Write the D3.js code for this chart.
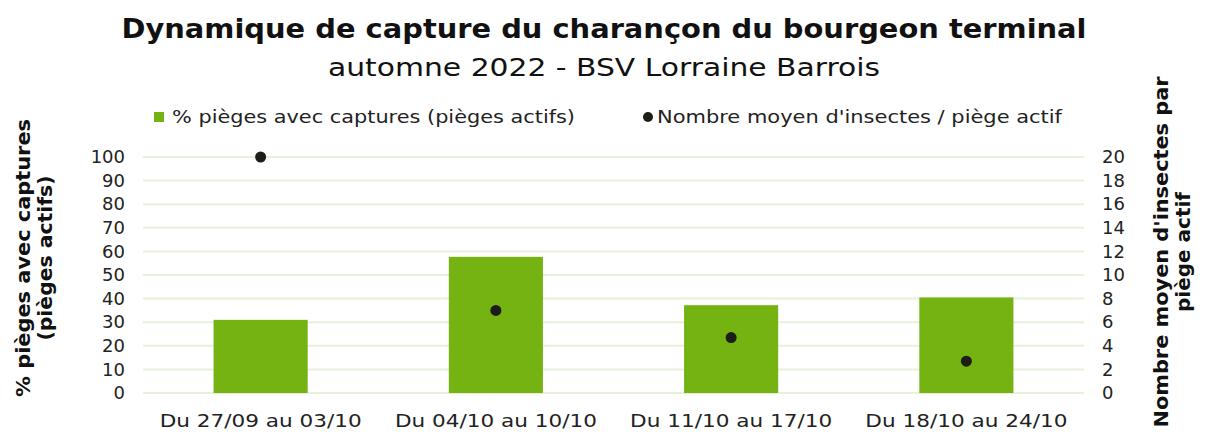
<!DOCTYPE html>
<html>
<head>
<meta charset="utf-8">
<script src="https://cdn.jsdelivr.net/npm/d3@7"></script>
<style>
  body { margin: 0; background: #fff; }
  svg { display: block; font-family: "DejaVu Sans", Verdana, sans-serif; }
</style>
</head>
<body>
<svg id="chart" width="1207" height="432"></svg>
<script>
var categories = ["Du 27/09 au 03/10", "Du 04/10 au 10/10", "Du 11/10 au 17/10", "Du 18/10 au 24/10"];
var pctPieges = [31, 57.7, 37.2, 40.5];
var moyInsectes = [20, 7, 4.7, 2.7];
var leftTicks = [0, 10, 20, 30, 40, 50, 60, 70, 80, 90, 100];
var rightTicks = [0, 2, 4, 6, 8, 10, 12, 14, 16, 18, 20];

var barColor = "#74b312";
var dotColor = "#1d1d16";
var gridColor = "#e6f1d9";
var textColor = "#222";

var margin = {top: 157, right: 123, bottom: 39, left: 143},
    width = 1207 - margin.left - margin.right,
    height = 432 - margin.top - margin.bottom;

var svg = d3.select("#chart");

// the original font is wider than DejaVu, stretch text to the measured widths
var fit = function(sel, w) {
    sel.attr("textLength", w).attr("lengthAdjust", "spacingAndGlyphs");
};

// titles
svg.append("text")
    .attr("x", 604).attr("y", 38)
    .attr("text-anchor", "middle")
    .attr("font-size", 26).attr("font-weight", "bold")
    .attr("fill", "#111")
    .text("Dynamique de capture du charançon du bourgeon terminal")
    .call(fit, 965);
svg.append("text")
    .attr("x", 604).attr("y", 76)
    .attr("text-anchor", "middle")
    .attr("font-size", 25)
    .attr("fill", "#111")
    .text("automne 2022 - BSV Lorraine Barrois")
    .call(fit, 552);

var g = svg.append("g")
    .attr("transform", "translate(" + margin.left + "," + margin.top + ")");

var x = d3.scaleBand().domain(categories).range([0, width]);
var barW = x.bandwidth() * 0.4;

var yLeft = d3.scaleLinear().domain([0, 100]).range([height, 0]);
var yRight = d3.scaleLinear().domain([0, 20]).range([height, 0]);

// grid
g.selectAll("line.grid")
    .data(leftTicks)
  .enter().append("line")
    .attr("class", "grid")
    .attr("x1", 0).attr("x2", width)
    .attr("y1", function(d) { return yLeft(d); })
    .attr("y2", function(d) { return yLeft(d); })
    .attr("stroke", gridColor)
    .attr("stroke-width", 2);

// bars
g.selectAll("rect.bar")
    .data(pctPieges)
  .enter().append("rect")
    .attr("class", "bar")
    .attr("x", function(d, i) { return x(categories[i]) + (x.bandwidth() - barW) / 2; })
    .attr("width", barW)
    .attr("y", function(d) { return yLeft(d); })
    .attr("height", function(d) { return height - yLeft(d); })
    .attr("fill", barColor);

// dots
g.selectAll("circle.dot")
    .data(moyInsectes)
  .enter().append("circle")
    .attr("class", "dot")
    .attr("cx", function(d, i) { return x(categories[i]) + x.bandwidth() / 2; })
    .attr("cy", function(d) { return yRight(d); })
    .attr("r", 5.5)
    .attr("fill", dotColor);

// left axis
var axL = g.append("g")
    .attr("transform", "translate(-6,0)")
    .call(d3.axisLeft(yLeft).tickValues(leftTicks).tickSize(0).tickPadding(12));
axL.select(".domain").remove();
axL.selectAll("text").attr("font-size", 18).attr("font-family", "DejaVu Sans").attr("fill", textColor);

// right axis
var axR = g.append("g")
    .attr("transform", "translate(" + (width + 6) + ",0)")
    .call(d3.axisRight(yRight).tickValues(rightTicks).tickSize(0).tickPadding(12));
axR.select(".domain").remove();
axR.selectAll("text").attr("font-size", 18).attr("font-family", "DejaVu Sans").attr("fill", textColor);

// x axis
var axX = g.append("g")
    .attr("transform", "translate(0," + height + ")")
    .call(d3.axisBottom(x).tickSize(0).tickPadding(21));
axX.select(".domain").remove();
axX.selectAll("text").attr("font-size", 18).attr("font-family", "DejaVu Sans").attr("fill", textColor)
    .call(fit, 202);

// axis titles
var lt = svg.append("text")
    .attr("transform", "translate(30,258) rotate(-90)")
    .attr("text-anchor", "middle")
    .attr("font-size", 19).attr("font-weight", "bold").attr("fill", "#111");
lt.append("tspan").attr("x", 0).attr("dy", 0).text("% pièges avec captures").call(fit, 278);
lt.append("tspan").attr("x", 0).attr("dy", 22).text("(pièges actifs)").call(fit, 165);

var rt = svg.append("text")
    .attr("transform", "translate(1168,252) rotate(-90)")
    .attr("text-anchor", "middle")
    .attr("font-size", 19).attr("font-weight", "bold").attr("fill", "#111");
rt.append("tspan").attr("x", 0).attr("dy", 0).text("Nombre moyen d'insectes par").call(fit, 351);
rt.append("tspan").attr("x", 0).attr("dy", 22).text("piège actif").call(fit, 120);

// legend
var leg = svg.append("g").attr("font-size", 18).attr("fill", textColor);
leg.append("rect")
    .attr("x", 154).attr("y", 112).attr("width", 10).attr("height", 10)
    .attr("fill", barColor);
leg.append("text")
    .attr("x", 172).attr("y", 117).attr("dy", "0.35em")
    .text("% pièges avec captures (pièges actifs)")
    .call(fit, 403);
leg.append("circle")
    .attr("cx", 648).attr("cy", 117).attr("r", 5)
    .attr("fill", dotColor);
leg.append("text")
    .attr("x", 657).attr("y", 117).attr("dy", "0.35em")
    .text("Nombre moyen d'insectes / piège actif")
    .call(fit, 405);
</script>
</body>
</html>
